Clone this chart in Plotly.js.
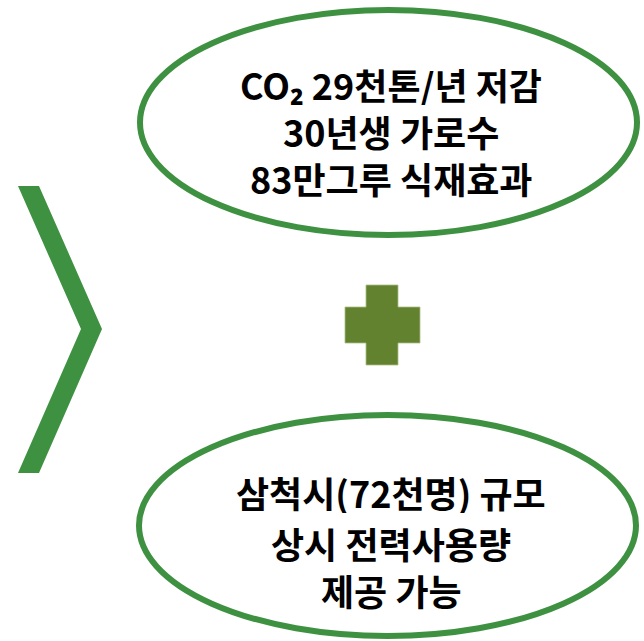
<!DOCTYPE html>
<html><head><meta charset="utf-8">
<script src="https://cdn.plot.ly/plotly-3.0.1.min.js"></script>
<style>html,body{margin:0;padding:0;background:#fff;}#chart{width:644px;height:641px;}</style>
</head><body><div id="chart"></div>
<script>
// Text content of the infographic
const topLines = ["CO₂ 29천톤/년 저감", "30년생 가로수", "83만그루 식재효과"];
const bottomLines = ["삼척시(72천명) 규모", "상시 전력사용량", "제공 가능"];

const green = "#3f9142";
const font = {family: "'Noto Sans CJK KR', 'Noto Sans', sans-serif", size: 36, color: "#000"};

function lineAnns(lines, ys) {
  return lines.map((t, i) => ({
    x: 391, y: ys[i], xref: "x", yref: "y", text: "<b>" + t + "</b>",
    showarrow: false, font: font, xanchor: "center", yanchor: "middle",
    height: 42, valign: "middle"
  }));
}

const shapes = [
  {type: "circle", xref: "x", yref: "y", x0: 140, x1: 637, y0: 10, y1: 235,
   line: {color: green, width: 6}, fillcolor: "rgba(0,0,0,0)"},
  {type: "circle", xref: "x", yref: "y", x0: 139, x1: 636, y0: 415, y1: 636,
   line: {color: green, width: 6}, fillcolor: "rgba(0,0,0,0)"},
  {type: "path", xref: "x", yref: "y",
   path: "M18,186 L39,186 L102,329 L39,473 L18,473 L81,329 Z",
   fillcolor: green, line: {width: 0}},
  {type: "path", xref: "x", yref: "y",
   path: "M366,285 L398,285 L398,307 L420,307 L420,343 L398,343 L398,365 L366,365 L366,343 L345,343 L345,307 L366,307 Z",
   fillcolor: "#62822f", line: {color: "#a9be85", width: 0.8}}
];

const layout = {
  width: 644, height: 641,
  margin: {l: 0, r: 0, t: 0, b: 0},
  paper_bgcolor: "#fff", plot_bgcolor: "#fff",
  xaxis: {range: [0, 644], visible: false, fixedrange: true},
  yaxis: {range: [641, 0], visible: false, fixedrange: true},
  shapes: shapes,
  annotations: lineAnns(topLines, [84, 131, 178]).concat(lineAnns(bottomLines, [492, 543, 590])),
  showlegend: false
};

Plotly.newPlot("chart", [], layout, {staticPlot: true, displayModeBar: false});
</script></body></html>
